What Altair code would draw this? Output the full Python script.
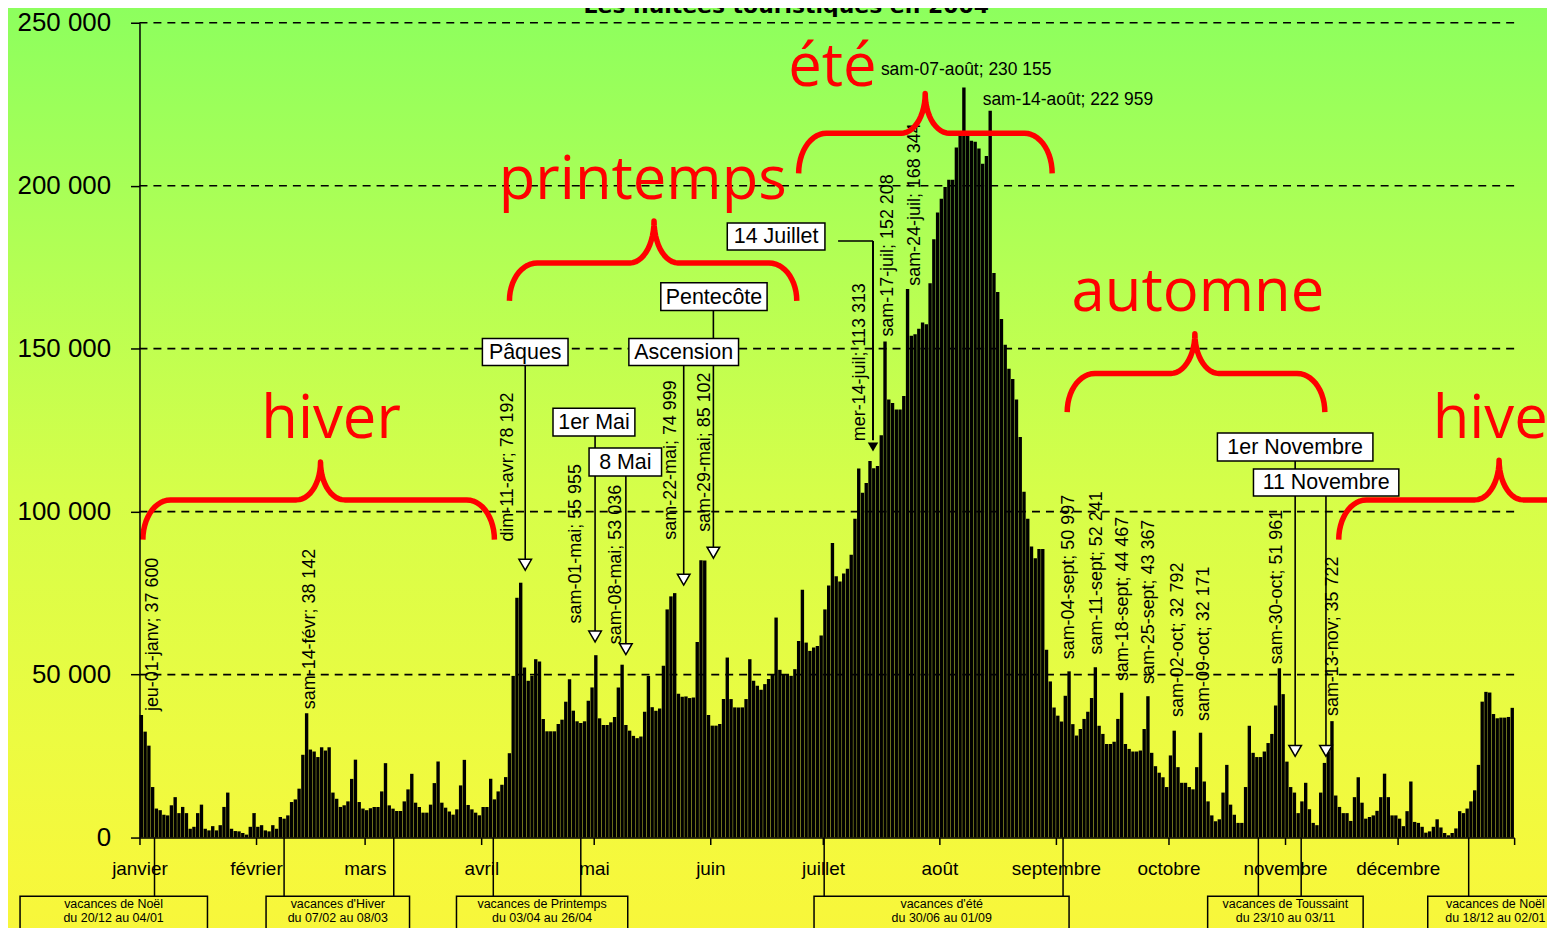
import numpy as np
import pandas as pd
import altair as alt

# ---------------- data: daily overnight stays 2004 ----------------
janv = [37600, 32500, 28200, 15500, 8900, 8400, 7000, 6800, 9900, 12400, 7500, 9400, 7500, 2700, 3300, 7500,
        10100, 2700, 2200, 3500, 2200, 3800, 9400, 13800, 2700, 2000, 1900, 1400, 900, 3300, 7500]
fev = [3300, 3800, 2200, 1900, 3800, 2700, 6300, 5800, 6800, 10900, 11700, 15000, 25400, 38142, 27000, 26400,
       24700, 27700, 26700, 27700, 13800, 11900, 9400, 9900, 11100, 18000, 23900, 10900, 8900]
mars = [8400, 9000, 9375, 9375, 14160, 22830, 9880, 8870, 8150, 8150, 11100, 14780, 19560, 10700, 9375, 7640,
        7640, 10100, 16710, 23340, 10700, 9170, 8000, 7030, 8660, 16000, 23840, 10000, 8660, 7640, 6830]
avr = [9375, 9375, 18040, 11720, 14160, 16200, 18550, 25880, 49600, 73570, 78192, 52170, 48100, 49600, 54720,
       54000, 36380, 32600, 32600, 32600, 34850, 36170, 41680, 48600, 38930, 35670, 35150, 35670, 42000, 46060]
mai = [55955, 36580, 34540, 34540, 35360, 36990, 46060, 53036, 34540, 32800, 31200, 30500, 31000, 38600, 49600,
       40000, 38900, 39600, 52700, 70000, 74000, 74999, 44100, 43200, 43300, 42800, 43000, 60000, 85102, 85000,
       37600]
juin = [34340, 34340, 34850, 42490, 55230, 42490, 39940, 39940, 39940, 42490, 54720, 48100, 46570, 45350, 47080,
        48610, 50130, 67500, 51460, 50130, 50130, 49620, 51660, 60320, 76000, 59820, 57270, 58290, 58800, 62000]
juil = [70000, 77300, 90400, 80200, 78600, 81000, 82500, 86800, 97800, 113200, 105800, 108800, 115500, 113313,
        114000, 123400, 152208, 134400, 133300, 131300, 131300, 135500, 168344, 154000, 154400, 156100, 158000,
        157500, 170100, 183600, 191800]
aout = [196000, 199600, 201800, 201800, 211700, 215400, 230155, 215400, 213800, 213500, 211400, 206700, 209100,
        222959, 173200, 167400, 159100, 151200, 143800, 140700, 134400, 122900, 106100, 97800, 89300, 85700,
        88500, 88500, 57600, 47900, 39900]
sept = [37400, 35600, 43500, 50997, 34800, 31300, 33300, 36400, 38600, 42800, 52241, 34300, 31800, 28700, 28700,
        29400, 36400, 44467, 28700, 27200, 26400, 26400, 26700, 33300, 43367, 26000, 21900, 19900, 18500, 15500]
octo = [25200, 32792, 21600, 16800, 16800, 15500, 14800, 21600, 32171, 17200, 11100, 6800, 5000, 5600, 13800,
        22300, 10100, 7000, 4500, 4500, 15500, 34300, 26000, 24700, 24700, 26400, 29000, 31800, 40500, 51961,
        44000]
nov = [23300, 15500, 13800, 7500, 11100, 16800, 8700, 4500, 3800, 13800, 22900, 26400, 35722, 12900, 9400, 7500,
       7500, 5100, 12400, 18500, 10700, 5800, 6300, 6800, 8200, 12400, 19600, 12400, 6800, 6800]
dec = [5800, 3500, 8100, 17200, 4800, 4500, 3300, 1500, 1900, 3300, 5600, 3100, 1400, 700, 1400, 2800, 8100, 7500,
       8900, 11100, 14500, 22300, 41700, 44700, 44500, 37900, 36600, 36800, 36800, 37000, 39800]

months = [janv, fev, mars, avr, mai, juin, juil, aout, sept, octo, nov, dec]
month_names = ["janvier", "février", "mars", "avril", "mai", "juin", "juillet", "août",
               "septembre", "octobre", "novembre", "décembre"]
values = [v for m in months for v in m]
month_starts = [int(s) for s in np.cumsum([0] + [len(m) for m in months])]  # 0 .. 366
n_days = len(values)

# ---------------- annotations (positions in data units: day index / nuitées) ----------------
season_text = ["hiver", "printemps", "été", "automne", "hive"]
season_day = [51.0, 134.0, 184.5, 281.8, 344.3]
season_val = [122500, 195900, 230700, 161700, 122500]
season_align = ["center", "center", "center", "center", "left"]

# braces: x0, x1, peak day, end value, line value, peak value
brace_specs = [
    (0.9, 94.5, 48.2, 91400, 103600, 115200),
    (98.5, 175.0, 137.0, 164700, 176300, 189200),
    (175.5, 243.0, 209.2, 203800, 216100, 228300),
    (247.0, 315.6, 281.0, 130500, 142400, 154600),
    (319.3, 414.0, 362.0, 91400, 103600, 115800),
]

rot_text = ["jeu-01-janv; 37 600", "sam-14-févr; 38 142", "dim-11-avr; 78 192", "sam-01-mai; 55 955",
            "sam-08-mai; 53 036", "sam-22-mai; 74 999", "sam-29-mai; 85 102", "mer-14-juil; 113 313",
            "sam-17-juil; 152 208", "sam-24-juil; 168 344", "sam-04-sept; 50 997", "sam-11-sept; 52 241",
            "sam-18-sept; 44 467", "sam-25-sept; 43 367", "sam-02-oct; 32 792", "sam-09-oct; 32 171",
            "sam-30-oct; 51 961", "sam-13-nov; 35 722"]
rot_day = [3.7, 45.4, 98.2, 116.2, 126.8, 141.4, 150.7, 191.8, 199.2, 206.4, 247.5, 254.9, 261.8, 268.7,
           276.4, 283.3, 303.0, 317.8]
rot_val = [38800, 39400, 90800, 65700, 59300, 91400, 93800, 121600, 153700, 169300, 54700, 56200, 48000,
           47100, 37000, 35800, 53200, 37300]

hz_text = ["sam-07-août; 230 155", "sam-14-août; 222 959"]
hz_day = [197.4, 224.5]
hz_val = [234100, 224900]

ev_text = ["Pâques", "1er Mai", "8 Mai", "Ascension", "Pentecôte", "14 Juillet", "1er Novembre", "11 Novembre"]
ev_x0 = [91.3, 110.1, 119.7, 130.3, 138.8, 156.5, 287.0, 296.6]
ev_x1 = [114.1, 131.9, 139.0, 159.5, 167.1, 182.5, 328.4, 335.3]
ev_top = [153100, 131700, 119500, 153100, 170200, 188550, 124100, 113100]
ev_bot = [144850, 123200, 110900, 144850, 161700, 180300, 115500, 104800]

arrow_day = [102.7, 121.3, 129.5, 144.9, 152.8, 307.7, 315.9]
arrow_from = [144850, 123200, 110900, 144850, 161700, 115500, 104800]
arrow_to = [85300, 63300, 59000, 80700, 88900, 27800, 27800]
arrow_tip = [83700, 61700, 57800, 79150, 87400, 26600, 26600]
juillet_h = (186.0, 195.3, 183050)
juillet_v = (195.3, 183050, 121900, 119800)

vac_l1 = ["vacances de Noël", "vacances d'Hiver", "vacances de Printemps", "vacances d'été",
          "vacances de Toussaint", "vacances de Noël"]
vac_l2 = ["du 20/12 au 04/01", "du 07/02 au 08/03", "du 03/04 au 26/04", "du 30/06 au 01/09",
          "du 23/10 au 03/11", "du 18/12 au 02/01"]
vac_x0 = [-31.8, 33.7, 84.4, 179.6, 284.4, 343.0]
vac_x1 = [18.1, 71.9, 130.0, 247.5, 325.8, 379.1]
vac_tx = [-6.9, 52.8, 107.2, 213.6, 305.1, 361.0]
vac_lines = [4.0, 38.5, 67.7, 94.2, 117.5, 182.3, 245.9, 297.9, 309.3, 353.9]
vac_box_top, vac_box_bot, vac_t1, vac_t2 = -18000, -37000, -20300, -24600

grid_vals = [50000, 100000, 150000, 200000, 250000]

# ---------------- chart ----------------
W, H = 1380, 818
xs = alt.Scale(domain=[0, n_days], nice=False, zero=False)
ys = alt.Scale(domain=[0, 250000], nice=False, zero=False)
FONT = "Liberation Sans"

month_expr = " : ".join(
    f"datum.value == {s} ? '{nm}'" for s, nm in zip(month_starts[:-1], month_names)) + " : ''"
xaxis = alt.Axis(values=month_starts, labelExpr=month_expr, title=None, grid=False,
                 tickSize=7, tickWidth=1.5, tickColor="black", domainColor="black", domainWidth=1.5,
                 labelFont=FONT, labelFontSize=19, labelColor="black", labelPadding=24,
                 labelFlush=False, labelOverlap=False, labelBaseline="middle", zindex=1)
yaxis = alt.Axis(values=[0] + grid_vals, labelExpr="replace(format(datum.value, ','), ',', ' ')",
                 title=None, grid=False, tickSize=9, tickWidth=1.5, tickColor="black",
                 domainColor="black", domainWidth=1.5, labelFont=FONT, labelFontSize=26,
                 labelColor="black", labelPadding=20, zindex=1)


def X(f):
    return alt.X(f, scale=xs, axis=xaxis)


def Y(f):
    return alt.Y(f, scale=ys, axis=yaxis)


bg = alt.Chart(pd.DataFrame({"a": [0]})).mark_rect(
    fill=alt.Gradient(gradient="linear", x1=0, x2=0, y1=0, y2=1, stops=[
        alt.GradientStop(color="#8cff5e", offset=0),
        alt.GradientStop(color="#b4ff54", offset=0.28),
        alt.GradientStop(color="#d6fe49", offset=0.52),
        alt.GradientStop(color="#ecfb41", offset=0.78),
        alt.GradientStop(color="#f6f83c", offset=0.92),
        alt.GradientStop(color="#f8f63a", offset=1),
    ])
).encode(x=alt.value(-140), x2=alt.value(W + 60), y=alt.value(-20), y2=alt.value(H + 110))

bars_df = pd.DataFrame({"d": np.arange(n_days), "v": values})
bars = alt.Chart(bars_df).transform_calculate(
    d0="datum.d + 0.05", d1="datum.d + 0.95", z="0"
).mark_rect(color="black").encode(x=X("d0:Q"), x2="d1:Q", y=Y("v:Q"), y2="z:Q")

grid = alt.Chart(pd.DataFrame({"g": grid_vals})).mark_rule(
    color="black", strokeDash=[8, 6], strokeWidth=1.6
).encode(y=Y("g:Q"), x=alt.value(0), x2=alt.value(W))

# braces
rows = []
for b, (x0, x1, xm, ye, yl, yp) in enumerate(brace_specs):
    rx, rp = 7.4, 6.4
    pts = []
    for t in np.linspace(np.pi, np.pi / 2, 14):
        pts.append((x0 + rx + rx * np.cos(t), ye + (yl - ye) * np.sin(t)))
    for t in np.linspace(-np.pi / 2, 0, 14):
        pts.append((xm - rp + rp * np.cos(t), yp + (yp - yl) * np.sin(t)))
    for t in np.linspace(np.pi, 1.5 * np.pi, 14):
        pts.append((xm + rp + rp * np.cos(t), yp + (yp - yl) * np.sin(t)))
    for t in np.linspace(np.pi / 2, 0, 14):
        pts.append((x1 - rx + rx * np.cos(t), ye + (yl - ye) * np.sin(t)))
    for i, (px, py) in enumerate(pts):
        rows.append({"b": b, "i": i, "bx": px, "by": py})
braces = alt.Chart(pd.DataFrame(rows)).mark_line(
    color="#ff0000", strokeWidth=5.5, strokeJoin="round"
).encode(x=X("bx:Q"), y=Y("by:Q"), detail="b:N", order="i:Q")

sdf_all = pd.DataFrame({"t": season_text, "d": season_day, "v": season_val, "al": season_align})
season_layers = []
for al in ["center", "left"]:
    sdf = sdf_all[sdf_all["al"] == al]
    season_layers.append(alt.Chart(sdf).mark_text(
        font="Open Sans", fontSize=60, color="#ff0000", baseline="alphabetic", align=al
    ).encode(x=X("d:Q"), y=Y("v:Q"), text="t:N"))

rot = alt.Chart(pd.DataFrame({"t": rot_text, "d": rot_day, "v": rot_val})).mark_text(
    font=FONT, fontSize=18, angle=270, align="left", baseline="middle", color="black"
).encode(x=X("d:Q"), y=Y("v:Q"), text="t:N")

hz = alt.Chart(pd.DataFrame({"t": hz_text, "d": hz_day, "v": hz_val})).mark_text(
    font=FONT, fontSize=17.5, align="left", baseline="alphabetic", color="black"
).encode(x=X("d:Q"), y=Y("v:Q"), text="t:N")

arr_df = pd.DataFrame({"d": arrow_day, "f": arrow_from, "to": arrow_to, "tip": arrow_tip})
arr_lines = alt.Chart(arr_df).mark_rule(color="black", strokeWidth=1.6).encode(
    x=X("d:Q"), y=Y("f:Q"), y2="to:Q")
arr_tips = alt.Chart(arr_df).mark_point(
    shape="triangle-down", filled=True, fill="white", stroke="black", strokeWidth=1.5, size=160,
    opacity=1
).encode(x=X("d:Q"), y=Y("tip:Q"))

jh = alt.Chart(pd.DataFrame({"a": [juillet_h[0]], "b": [juillet_h[1]], "y": [juillet_h[2]]})).mark_rule(
    color="black", strokeWidth=1.6).encode(x=X("a:Q"), x2="b:Q", y=Y("y:Q"))
jv_df = pd.DataFrame({"x": [juillet_v[0]], "f": [juillet_v[1]], "to": [juillet_v[2]], "tip": [juillet_v[3]]})
jv = alt.Chart(jv_df).mark_rule(color="black", strokeWidth=2).encode(x=X("x:Q"), y=Y("f:Q"), y2="to:Q")
jtip = alt.Chart(jv_df).mark_point(shape="triangle-down", filled=True, color="black", size=110,
                                   opacity=1).encode(x=X("x:Q"), y=Y("tip:Q"))

ev_df = pd.DataFrame({"t": ev_text, "x0": ev_x0, "x1": ev_x1, "y0": ev_top, "y1": ev_bot})
ev_df["cx"] = (ev_df["x0"] + ev_df["x1"]) / 2
ev_df["cy"] = (ev_df["y0"] + ev_df["y1"]) / 2
ev_box = alt.Chart(ev_df).mark_rect(fill="white", stroke="black", strokeWidth=1.5).encode(
    x=X("x0:Q"), x2="x1:Q", y=Y("y0:Q"), y2="y1:Q")
ev_txt = alt.Chart(ev_df).mark_text(font=FONT, fontSize=21.5, color="black", baseline="middle",
                                    dy=1).encode(x=X("cx:Q"), y=Y("cy:Q"), text="t:N")

vac_df = pd.DataFrame({"l1": vac_l1, "l2": vac_l2, "x0": vac_x0, "x1": vac_x1, "tx": vac_tx,
                       "y0": vac_box_top, "y1": vac_box_bot, "t1": vac_t1, "t2": vac_t2})
vac_ln = alt.Chart(pd.DataFrame({"d": vac_lines, "a": 0, "b": vac_box_top})).mark_rule(
    color="black", strokeWidth=1.5).encode(x=X("d:Q"), y=Y("a:Q"), y2="b:Q")
vac_box = alt.Chart(vac_df).mark_rect(fillOpacity=0, stroke="black", strokeWidth=1.5).encode(
    x=X("x0:Q"), x2="x1:Q", y=Y("y0:Q"), y2="y1:Q")
vac_t1_l = alt.Chart(vac_df).mark_text(font=FONT, fontSize=12.5, color="black", baseline="middle").encode(
    x=X("tx:Q"), y=Y("t1:Q"), text="l1:N")
vac_t2_l = alt.Chart(vac_df).mark_text(font=FONT, fontSize=12.5, color="black", baseline="middle").encode(
    x=X("tx:Q"), y=Y("t2:Q"), text="l2:N")

title = alt.Chart(pd.DataFrame({"t": ["Les nuitées touristiques en 2004"], "d": [172.2],
                                "v": [253000]})).mark_text(
    font="DejaVu Sans", fontWeight="bold", fontSize=22, color="black", baseline="alphabetic"
).encode(x=X("d:Q"), y=Y("v:Q"), text="t:N")

chart = alt.layer(
    bg, grid, bars, vac_ln, vac_box, vac_t1_l, vac_t2_l,
    arr_lines, jh, jv, ev_box, ev_txt, arr_tips, jtip,
    rot, hz, braces, *season_layers, title
).properties(
    width=W, height=H,
    autosize=alt.AutoSizeParams(type="none"),
    padding={"left": 132, "top": 13, "right": 33, "bottom": 89},
    background="#f8f63a",
).configure_view(stroke=None)

chart.save("out.html", embed_options={"renderer": "svg", "actions": False})
